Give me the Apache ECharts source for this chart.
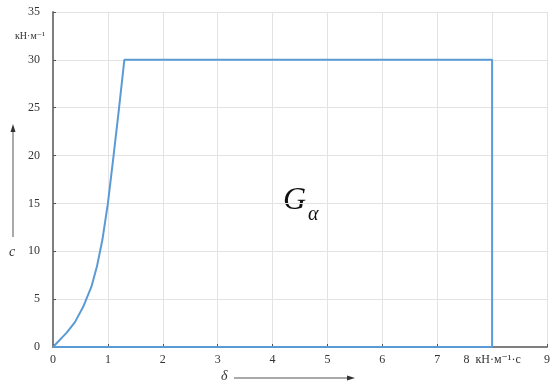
<!DOCTYPE html>
<html><head><meta charset="utf-8">
<script src="https://cdn.jsdelivr.net/npm/echarts@6/dist/echarts.min.js"></script>
<style>html,body{margin:0;padding:0;background:#fff}#c{width:553px;height:388px}</style>
</head><body><div id="c"></div>
<script>
const deltaValues = [0, 0.25, 0.4, 0.55, 0.7, 0.8, 0.9, 1.0, 1.1, 1.2, 1.3, 8, 8, 0];
const cValues     = [0, 1.5, 2.6, 4.2, 6.3, 8.4, 11.2, 15, 19.8, 24.8, 30, 30, 0, 0];
const xTicks = [0,1,2,3,4,5,6,7,8,9];
const yTicks = [0,5,10,15,20,25,30,35];

const chart = echarts.init(document.getElementById('c'));
const serif = '"Liberation Serif", "DejaVu Serif", serif';
const data = deltaValues.map((x,i)=>[x,cValues[i]]);
chart.setOption({
  animation:false,
  grid:{left:53,right:1,top:12,bottom:41,containLabel:false},
  xAxis:{type:'value',min:xTicks[0],max:xTicks[xTicks.length-1],interval:1,
    axisLine:{show:true,onZero:false,lineStyle:{color:'#7f7f7f',width:2}},
    axisTick:{show:true,inside:true,length:3,lineStyle:{color:'#555'}},
    splitLine:{show:true,lineStyle:{color:'#e3e3e3',width:1}},
    axisLabel:{fontFamily:serif,fontSize:12,color:'#333',margin:7,
      formatter:v=>v===8?'8  кН·м⁻¹·с':String(v)}},
  yAxis:{type:'value',min:yTicks[0],max:yTicks[yTicks.length-1],interval:5,
    axisLine:{show:true,onZero:false,lineStyle:{color:'#7f7f7f',width:2}},
    axisTick:{show:true,inside:true,length:3,lineStyle:{color:'#555'}},
    splitLine:{show:true,lineStyle:{color:'#e3e3e3',width:1}},
    axisLabel:{fontFamily:serif,fontSize:12,color:'#333',margin:13}},
  series:[{type:'line',data:data,symbol:'none',lineStyle:{color:'#5b9bd5',width:2},z:3}],
  graphic:[
    {type:'text',left:15,top:31,style:{text:'кН·м⁻¹',font:'10px '+serif,fill:'#333'}},
    {type:'line',shape:{x1:13,y1:237,x2:13,y2:130},style:{stroke:'#555',lineWidth:1}},
    {type:'polygon',shape:{points:[[13,124],[10.5,132],[15.5,132]]},style:{fill:'#333'}},
    {type:'text',x:9,y:245,style:{text:'c',font:'italic 14px '+serif,fill:'#333'}},
    {type:'text',x:221,y:369,style:{text:'δ',font:'italic 14px '+serif,fill:'#333'}},
    {type:'line',shape:{x1:234,y1:378,x2:348,y2:378},style:{stroke:'#555',lineWidth:1}},
    {type:'polygon',shape:{points:[[355,378],[347,375.5],[347,380.5]]},style:{fill:'#333'}},
    {type:'text',x:283,y:185,style:{text:'G',font:'italic 32px '+serif,fill:'#111'}},
    {type:'text',x:308,y:205,style:{text:'α',font:'italic 20px '+serif,fill:'#111'}}
  ]
});
</script></body></html>
